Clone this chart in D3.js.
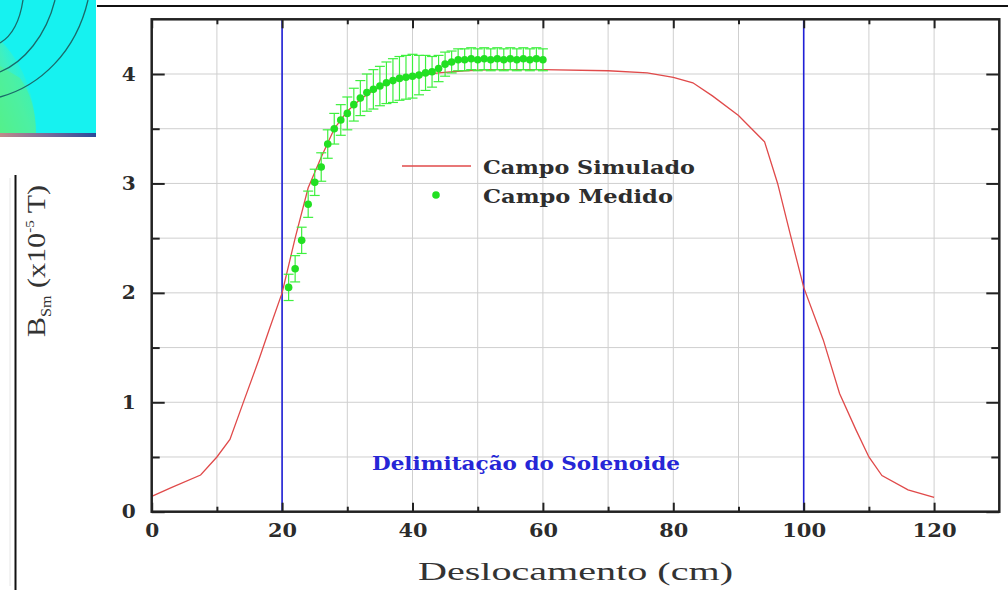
<!DOCTYPE html>
<html>
<head>
<meta charset="utf-8">
<script src="https://cdn.jsdelivr.net/npm/d3@7"></script>
<style>
  body { margin: 0; background: #ffffff; }
  svg { display: block; }
</style>
</head>
<body>
<svg id="chart" width="1008" height="590"></svg>
<script>
// Simulated field along the solenoid axis (cm, x10^-5 T)
const simX = [0, 3, 7.5, 10, 12, 14, 16.5, 18, 20, 22, 24, 26, 28, 30, 32, 34, 37, 40, 44, 48, 52, 60,
              70, 76, 80, 83, 86, 90, 94, 96, 98, 100, 103, 105.5, 108, 110, 112, 116, 120];
const simY = [0.14, 0.22, 0.335, 0.50, 0.66, 0.99, 1.40, 1.66, 2.0, 2.5, 2.96, 3.24, 3.5, 3.66, 3.77, 3.85, 3.94, 3.98, 4.01, 4.03, 4.04, 4.04,
              4.03, 4.01, 3.97, 3.92, 3.80, 3.62, 3.38, 3.0, 2.52, 2.05, 1.57, 1.08, 0.75, 0.50, 0.33, 0.20, 0.13];

// Measured field with uncertainty
const measX = [21, 22, 23, 24, 25, 26, 27, 28, 29, 30, 31, 32, 33, 34, 35, 36, 37, 38, 39, 40,
               41, 42, 43, 44, 45, 46, 47, 48, 49, 50, 51, 52, 53, 54, 55, 56, 57, 58, 59, 60];
const measY = [2.05, 2.22, 2.48, 2.81, 3.01, 3.15, 3.36, 3.50, 3.58, 3.64, 3.72, 3.78, 3.83, 3.86, 3.89, 3.92, 3.94, 3.96, 3.97, 3.98,
               3.99, 4.01, 4.02, 4.05, 4.09, 4.11, 4.13, 4.13, 4.14, 4.13, 4.14, 4.13, 4.14, 4.13, 4.14, 4.13, 4.14, 4.13, 4.14, 4.13];
const measErr = [0.12, 0.12, 0.12, 0.12, 0.12, 0.13, 0.13, 0.14, 0.14, 0.15, 0.15, 0.16, 0.17, 0.18, 0.18, 0.19, 0.2, 0.2, 0.2, 0.2,
                 0.18, 0.16, 0.14, 0.12, 0.11, 0.1, 0.1, 0.1, 0.1, 0.1, 0.1, 0.1, 0.1, 0.1, 0.1, 0.1, 0.1, 0.1, 0.1, 0.1];

// Solenoid ends
const solenoidEdges = [20, 100];

// Axis ticks and labels
const xMajor = [0, 20, 40, 60, 80, 100, 120];
const xMinor = [10, 30, 50, 70, 90, 110];
const yMajor = [0, 1, 2, 3, 4];
const yMinor = [0.5, 1.5, 2.5, 3.5];
const xGrid = [10, 20, 30, 40, 50, 60, 70, 80, 90, 100, 110, 120];
const yGrid = [0.5, 1, 1.5, 2, 2.5, 3, 3.5, 4];
const legendLabels = ["Campo Simulado", "Campo Medido"];
const xTitle = "Deslocamento (cm)";
const noteText = "Delimitação do Solenoide";

const svg = d3.select("#chart");
const L = 151.7, R = 999.3, T = 19.3, B = 511.7;
const x = d3.scaleLinear().domain([0, 130]).range([L, R]);
const y = d3.scaleLinear().domain([0, 4.5]).range([B, T]);
const serif = "Liberation Serif";
const boldSerif = "DejaVu Serif";

function heavy(sel, color) {
  return sel.style("font-family", boldSerif).style("font-weight", "bold").attr("fill", color);
}

// ---- fragment of the neighbouring field map (top-left) ----
const defs = svg.append("defs");
const gg = defs.append("linearGradient").attr("id", "greenFade").attr("x1", 0).attr("y1", 1).attr("x2", 1).attr("y2", 0);
gg.append("stop").attr("offset", 0).attr("stop-color", "#52f08a");
gg.append("stop").attr("offset", 0.45).attr("stop-color", "#3ff0c0");
gg.append("stop").attr("offset", 1).attr("stop-color", "#16f2f0").attr("stop-opacity", 0);
const sg = defs.append("linearGradient").attr("id", "stripFade");
sg.append("stop").attr("offset", 0).attr("stop-color", "#c08a8a");
sg.append("stop").attr("offset", 0.5).attr("stop-color", "#7a6a9a");
sg.append("stop").attr("offset", 1).attr("stop-color", "#2a4a9a");

const map = svg.append("g");
map.append("rect").attr("x", 0).attr("y", 0).attr("width", 96).attr("height", 134).attr("fill", "#16f2f0");
map.append("path").attr("d", "M0,40 C20,60 35,90 36,134 L0,134 Z").attr("fill", "url(#greenFade)");
map.append("path").attr("d", "M0,134 L36,134 C36,110 30,92 20,78 L0,66 Z").attr("fill", "#58f08a").attr("opacity", 0.55);
["M0,97 C40,86 76,52 88,0", "M0,72 C24,62 46,36 55,0", "M0,43 C12,36 20,20 23,0"].forEach(d => {
  map.append("path").attr("d", d).attr("fill", "none").attr("stroke", "#1a6a6a").attr("stroke-width", 1.3);
});
map.append("rect").attr("x", 0).attr("y", 133).attr("width", 96).attr("height", 4).attr("fill", "url(#stripFade)");

// page rules
svg.append("line").attr("x1", 97).attr("x2", 1008).attr("y1", 6).attr("y2", 6).attr("stroke", "#111").attr("stroke-width", 2);
svg.append("line").attr("x1", 15.5).attr("x2", 15.5).attr("y1", 175).attr("y2", 590).attr("stroke", "#111").attr("stroke-width", 2);
const zig = d3.range(178, 590, 6).map(v => `${v % 12 === 0 ? 3 : 10},${v}`).join(" ");
svg.append("polyline").attr("points", zig).attr("fill", "none").attr("stroke", "#e6e6e6").attr("stroke-width", 1);

// ---- grid ----
const grid = svg.append("g").attr("stroke", "#cfcfcf").attr("stroke-width", 1);
grid.selectAll("line.v").data(xGrid).join("line").attr("class", "v")
  .attr("x1", d => x(d)).attr("x2", d => x(d)).attr("y1", T).attr("y2", B);
grid.selectAll("line.h").data(yGrid).join("line").attr("class", "h")
  .attr("x1", L).attr("x2", R).attr("y1", d => y(d)).attr("y2", d => y(d));

// ---- solenoid limits ----
svg.selectAll("line.edge").data(solenoidEdges).join("line").attr("class", "edge")
  .attr("x1", d => x(d)).attr("x2", d => x(d)).attr("y1", T).attr("y2", B)
  .attr("stroke", "#2020d8").attr("stroke-width", 1.6);

// ---- simulated curve ----
const simData = simX.map((v, i) => [v, simY[i]]);
svg.append("path").datum(simData)
  .attr("d", d3.line().x(d => x(d[0])).y(d => y(d[1])))
  .attr("fill", "none").attr("stroke", "#e04a4a").attr("stroke-width", 1.3);

// ---- measured points with error bars ----
const meas = measX.map((v, i) => ({ x: v, y: measY[i], e: measErr[i] }));
const eb = svg.append("g").attr("stroke", "#3ef03e").attr("stroke-width", 1.2);
eb.selectAll("line.bar").data(meas).join("line").attr("class", "bar")
  .attr("x1", d => x(d.x)).attr("x2", d => x(d.x)).attr("y1", d => y(d.y - d.e)).attr("y2", d => y(d.y + d.e));
eb.selectAll("line.capTop").data(meas).join("line").attr("class", "capTop")
  .attr("x1", d => x(d.x) - 5).attr("x2", d => x(d.x) + 5).attr("y1", d => y(d.y + d.e)).attr("y2", d => y(d.y + d.e));
eb.selectAll("line.capBot").data(meas).join("line").attr("class", "capBot")
  .attr("x1", d => x(d.x) - 5).attr("x2", d => x(d.x) + 5).attr("y1", d => y(d.y - d.e)).attr("y2", d => y(d.y - d.e));
svg.append("g").selectAll("circle").data(meas).join("circle")
  .attr("cx", d => x(d.x)).attr("cy", d => y(d.y)).attr("r", 3.8).attr("fill", "#22e022");

// ---- axes (inward ticks on all four sides) ----
function styleAxis(g) {
  g.select(".domain").remove();
  g.selectAll(".tick line").attr("stroke", "#222").attr("stroke-width", 2);
}
const fmt = d3.format("d");
const tickFont = g => {
  g.attr("font-family", null);
  const t = g.selectAll("text").attr("font-size", 19)
    .attr("lengthAdjust", "spacingAndGlyphs")
    .attr("textLength", function () { return this.textContent.length * 15 - 1; });
  heavy(t, "#2b2b2b");
};

svg.append("g").attr("transform", `translate(0,${B})`)
  .call(d3.axisBottom(x).tickValues(xMajor).tickFormat(fmt).tickSize(-9).tickPadding(12))
  .call(styleAxis).call(tickFont);
svg.append("g").attr("transform", `translate(0,${B})`)
  .call(d3.axisBottom(x).tickValues(xMinor).tickFormat("").tickSize(-5)).call(styleAxis);
svg.append("g").attr("transform", `translate(0,${T})`)
  .call(d3.axisTop(x).tickValues(xMajor).tickFormat("").tickSize(-9)).call(styleAxis);
svg.append("g").attr("transform", `translate(0,${T})`)
  .call(d3.axisTop(x).tickValues(xMinor).tickFormat("").tickSize(-5)).call(styleAxis);

svg.append("g").attr("transform", `translate(${L},0)`)
  .call(d3.axisLeft(y).tickValues(yMajor).tickFormat(fmt).tickSize(-13).tickPadding(16))
  .call(styleAxis).call(tickFont);
svg.append("g").attr("transform", `translate(${L},0)`)
  .call(d3.axisLeft(y).tickValues(yMinor).tickFormat("").tickSize(-8)).call(styleAxis);
svg.append("g").attr("transform", `translate(${R},0)`)
  .call(d3.axisRight(y).tickValues(yMajor).tickFormat("").tickSize(-13)).call(styleAxis);
svg.append("g").attr("transform", `translate(${R},0)`)
  .call(d3.axisRight(y).tickValues(yMinor).tickFormat("").tickSize(-8)).call(styleAxis);

// frame
svg.append("rect").attr("x", L).attr("y", T).attr("width", R - L).attr("height", B - T)
  .attr("fill", "none").attr("stroke", "#222").attr("stroke-width", 2.5);

// ---- legend ----
const leg = svg.append("g");
leg.append("line").attr("x1", 402).attr("x2", 471).attr("y1", 166).attr("y2", 166)
  .attr("stroke", "#e04a4a").attr("stroke-width", 1.3);
leg.append("circle").attr("cx", 436).attr("cy", 195).attr("r", 3.8).attr("fill", "#22e022");
heavy(leg.append("text").attr("x", 483).attr("y", 174).text(legendLabels[0]), "#2e2e2e")
  .attr("font-size", 19).attr("textLength", 212).attr("lengthAdjust", "spacingAndGlyphs");
heavy(leg.append("text").attr("x", 483).attr("y", 203).text(legendLabels[1]), "#2e2e2e")
  .attr("font-size", 19).attr("textLength", 190).attr("lengthAdjust", "spacingAndGlyphs");

// ---- annotation ----
heavy(svg.append("text").attr("x", 372).attr("y", 470).text(noteText), "#2626d6")
  .attr("font-size", 18).attr("textLength", 308).attr("lengthAdjust", "spacingAndGlyphs");

// ---- axis titles ----
svg.append("text").attr("x", 418).attr("y", 580).text(xTitle)
  .style("font-family", serif).attr("font-size", 26).attr("fill", "#333")
  .attr("textLength", 315).attr("lengthAdjust", "spacingAndGlyphs");

const yt = svg.append("text").attr("transform", "translate(45,337) rotate(-90)")
  .style("font-family", serif).attr("font-size", 26).attr("fill", "#333")
  .attr("textLength", 152).attr("lengthAdjust", "spacingAndGlyphs");
yt.append("tspan").text("B");
yt.append("tspan").attr("font-size", 14).attr("dy", 6).text("Sm");
yt.append("tspan").attr("dy", -6).text(" (x10");
yt.append("tspan").attr("font-size", 13).attr("dy", -11).text("-5");
yt.append("tspan").attr("dy", 11).text(" T)");
</script>
</body>
</html>
